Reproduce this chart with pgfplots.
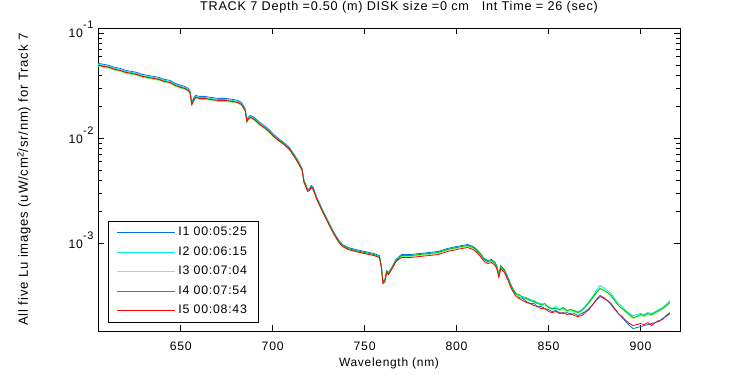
\documentclass[border=0pt]{standalone}
\usepackage{pgfplots}
\pgfplotsset{compat=1.18}
\usepackage{pgfplotstable}
\usepackage{fontspec}
\setmainfont{Liberation Sans}[LetterSpace=6]
\definecolor{cI1}{RGB}{0,112,230}
\definecolor{cI2}{RGB}{0,230,230}
\definecolor{cI3}{RGB}{120,255,120}
\definecolor{cI4}{RGB}{0,190,0}
\definecolor{cI5}{RGB}{255,0,0}
\pgfplotstableread{
x I1 I2 I3 I4 I5
605 0.05180 0.05067 0.04850 0.04957 0.04957
608 0.05067 0.04957 0.04745 0.04850 0.04850
611 0.04957 0.04850 0.04642 0.04745 0.04745
614 0.04745 0.04642 0.04442 0.04541 0.04541
617 0.04642 0.04541 0.04346 0.04442 0.04442
620 0.04442 0.04346 0.04160 0.04252 0.04252
623 0.04346 0.04252 0.04069 0.04160 0.04160
626 0.04252 0.04160 0.03981 0.04069 0.04069
629 0.04069 0.03981 0.03810 0.03895 0.03895
632 0.03981 0.03895 0.03728 0.03810 0.03810
635 0.03895 0.03810 0.03647 0.03728 0.03728
638 0.03810 0.03728 0.03568 0.03647 0.03647
641 0.03647 0.03568 0.03415 0.03490 0.03490
644 0.03568 0.03490 0.03341 0.03415 0.03415
647 0.03341 0.03268 0.03128 0.03197 0.03197
650 0.03197 0.03128 0.02994 0.03060 0.03060
652 0.03128 0.03060 0.02929 0.02994 0.02994
654 0.02994 0.02929 0.02803 0.02865 0.02865
655 0.02865 0.02803 0.02683 0.02742 0.02742
656 0.02202 0.02154 0.02062 0.02108 0.02108
657 0.02404 0.02352 0.02251 0.02301 0.02301
658 0.02568 0.02512 0.02404 0.02458 0.02458
660 0.02512 0.02458 0.02352 0.02404 0.02404
663 0.02512 0.02458 0.02352 0.02404 0.02404
666 0.02458 0.02404 0.02301 0.02352 0.02352
670 0.02404 0.02352 0.02251 0.02301 0.02301
674 0.02404 0.02352 0.02251 0.02301 0.02301
678 0.02352 0.02301 0.02202 0.02251 0.02251
681 0.02301 0.02251 0.02154 0.02202 0.02202
683 0.02202 0.02154 0.02062 0.02108 0.02108
685 0.01931 0.01889 0.01808 0.01848 0.01848
686 0.01517 0.01484 0.01420 0.01452 0.01452
687 0.01620 0.01585 0.01517 0.01551 0.01551
688 0.01656 0.01620 0.01551 0.01585 0.01585
690 0.01585 0.01551 0.01484 0.01517 0.01517
693 0.01420 0.01390 0.01330 0.01359 0.01359
696 0.01301 0.01273 0.01218 0.01245 0.01245
698 0.01218 0.01192 0.01141 0.01166 0.01166
700 0.01116 0.01092 0.01045 0.01068 0.01068
703 0.01000 0.009783 0.009571 0.009783 0.009571
706 0.009160 0.008962 0.008767 0.008962 0.008767
709 0.008209 0.008031 0.007857 0.008031 0.007857
712 0.006888 0.006739 0.006592 0.006739 0.006592
714 0.006039 0.005908 0.005780 0.005908 0.005780
716 0.005180 0.005067 0.004957 0.005067 0.004957
717 0.003981 0.003895 0.003810 0.003895 0.003810
718 0.003647 0.003568 0.003490 0.003568 0.003490
719 0.003268 0.003197 0.003128 0.003197 0.003128
720 0.003341 0.003268 0.003197 0.003268 0.003197
721 0.003568 0.003490 0.003415 0.003490 0.003415
722 0.003415 0.003341 0.003268 0.003341 0.003268
724 0.002742 0.002683 0.002625 0.002683 0.002625
727 0.002108 0.002062 0.002017 0.002062 0.002017
730 0.001656 0.001620 0.001585 0.001620 0.001585
733 0.001301 0.001273 0.001245 0.001273 0.001245
736 0.001068 0.001045 0.001022 0.001045 0.001022
738 0.0009783 0.0009571 0.0009363 0.0009571 0.0009363
741 0.0009160 0.0008962 0.0008767 0.0008962 0.0008767
745 0.0008767 0.0008577 0.0008391 0.0008577 0.0008391
750 0.0008391 0.0008209 0.0008031 0.0008209 0.0008031
755 0.0008031 0.0007857 0.0007686 0.0007857 0.0007686
758 0.0007686 0.0007520 0.0007357 0.0007520 0.0007357
759 0.0006310 0.0006173 0.0006039 0.0006173 0.0006039
760 0.0004346 0.0004252 0.0004160 0.0004252 0.0004160
761 0.0004541 0.0004442 0.0004346 0.0004442 0.0004346
762 0.0005532 0.0005412 0.0005294 0.0005412 0.0005294
763 0.0005294 0.0005180 0.0005067 0.0005180 0.0005067
765 0.0006039 0.0005908 0.0005780 0.0005908 0.0005780
767 0.0007041 0.0006888 0.0006739 0.0006888 0.0006739
770 0.0007857 0.0007686 0.0007520 0.0007686 0.0007357
775 0.0007857 0.0007686 0.0007520 0.0007686 0.0007357
780 0.0008031 0.0007857 0.0007686 0.0007857 0.0007520
785 0.0008209 0.0008031 0.0007857 0.0008031 0.0007686
790 0.0008391 0.0008209 0.0008031 0.0008209 0.0007857
795 0.0008962 0.0008767 0.0008577 0.0008767 0.0008391
800 0.0009363 0.0009160 0.0008962 0.0009160 0.0008767
803 0.0009571 0.0009363 0.0009160 0.0009363 0.0008962
806 0.0009783 0.0009571 0.0009363 0.0009571 0.0009160
809 0.0009363 0.0009160 0.0008962 0.0009160 0.0008767
811 0.0008767 0.0008577 0.0008391 0.0008577 0.0008209
813 0.0008031 0.0007857 0.0007686 0.0007857 0.0007520
815 0.0007197 0.0007041 0.0006888 0.0007041 0.0006739
817 0.0006888 0.0006739 0.0006592 0.0006739 0.0006450
819 0.0007041 0.0006888 0.0006739 0.0006888 0.0006592
821 0.0006592 0.0006450 0.0006310 0.0006450 0.0006173
822 0.0006039 0.0005908 0.0005780 0.0005908 0.0005654
823 0.0005067 0.0004957 0.0004850 0.0004957 0.0004745
824 0.0006173 0.0006039 0.0005908 0.0006039 0.0005780
826 0.0005654 0.0005532 0.0005412 0.0005532 0.0005294
828 0.0004745 0.0004642 0.0004541 0.0004642 0.0004442
830 0.0003895 0.0003810 0.0003728 0.0003810 0.0003647
832 0.0003415 0.0003341 0.0003268 0.0003341 0.0003197
834 0.0003060 0.0003197 0.0003128 0.0003268 0.0002994
836 0.0002994 0.0003128 0.0003060 0.0003060 0.0002865
838 0.0002803 0.0003060 0.0002929 0.0002994 0.0002742
840 0.0002683 0.0002929 0.0002865 0.0002865 0.0002683
842 0.0002683 0.0002865 0.0002742 0.0002803 0.0002568
844 0.0002512 0.0002742 0.0002683 0.0002683 0.0002512
846 0.0002512 0.0002683 0.0002568 0.0002625 0.0002404
848 0.0002404 0.0002568 0.0002568 0.0002683 0.0002404
850 0.0002352 0.0002512 0.0002458 0.0002458 0.0002251
852 0.0002251 0.0002404 0.0002352 0.0002404 0.0002202
854 0.0002301 0.0002512 0.0002458 0.0002404 0.0002251
856 0.0002202 0.0002352 0.0002301 0.0002352 0.0002154
858 0.0002154 0.0002404 0.0002352 0.0002458 0.0002202
860 0.0002202 0.0002301 0.0002251 0.0002301 0.0002108
862 0.0002108 0.0002352 0.0002301 0.0002352 0.0002154
864 0.0002154 0.0002251 0.0002202 0.0002301 0.0002062
866 0.0002062 0.0002251 0.0002202 0.0002202 0.0002017
868 0.0002154 0.0002352 0.0002251 0.0002301 0.0002062
870 0.0002251 0.0002512 0.0002458 0.0002512 0.0002202
872 0.0002404 0.0002803 0.0002683 0.0002742 0.0002352
874 0.0002625 0.0003128 0.0002994 0.0003060 0.0002625
876 0.0002865 0.0003568 0.0003341 0.0003415 0.0002929
878 0.0003128 0.0003981 0.0003728 0.0003728 0.0003197
880 0.0002994 0.0003810 0.0003647 0.0003568 0.0003060
882 0.0002865 0.0003568 0.0003415 0.0003415 0.0002865
884 0.0002625 0.0003341 0.0003128 0.0003197 0.0002683
886 0.0002352 0.0002994 0.0002865 0.0002865 0.0002404
888 0.0002154 0.0002683 0.0002568 0.0002568 0.0002154
890 0.0001974 0.0002512 0.0002404 0.0002404 0.0002017
892 0.0001808 0.0002301 0.0002202 0.0002251 0.0001848
894 0.0001656 0.0002154 0.0002062 0.0002108 0.0001730
896 0.0001551 0.0002062 0.0001931 0.0001974 0.0001656
898 0.0001585 0.0002108 0.0002017 0.0002017 0.0001693
900 0.0001620 0.0002154 0.0002062 0.0002108 0.0001730
902 0.0001656 0.0002108 0.0002017 0.0002062 0.0001693
904 0.0001693 0.0002202 0.0002108 0.0002154 0.0001769
906 0.0001730 0.0002154 0.0002062 0.0002108 0.0001656
908 0.0001769 0.0002251 0.0002154 0.0002202 0.0001769
910 0.0001808 0.0002352 0.0002251 0.0002301 0.0001848
912 0.0001931 0.0002458 0.0002352 0.0002404 0.0001889
914 0.0002017 0.0002625 0.0002512 0.0002568 0.0002062
916 0.0002154 0.0002865 0.0002742 0.0002742 0.0002202
}\data
\begin{document}
\begin{tikzpicture}
\path[use as bounding box] (-98bp,-44bp) rectangle (652bp,331bp);
\begin{axis}[
  at={(0,0)}, anchor=south west,
  scale only axis, width=582bp, height=302.7bp,
  ymode=log,
  xmin=605, xmax=921.5,
  ymin=1.47e-4, ymax=0.1116,
  axis line style={line width=0.8bp, black},
  every tick/.style={black, line width=0.8bp},
  tick align=inside,
  xtick pos=both, ytick pos=both,
  major tick length=5.8bp, minor tick length=3.8bp,
  xtick={650,700,750,800,850,900},
  xticklabels={650,700,750,800,850,900},
  ytick={0.001,0.01,0.1},
  yticklabels={10\raisebox{9bp}{\fontsize{11}{12}\selectfont -3},10\raisebox{9bp}{\fontsize{11}{12}\selectfont -2},10\raisebox{9bp}{\fontsize{11}{12}\selectfont -1}},
  ticklabel style={font=\fontsize{12.3}{14}\selectfont},
  xticklabel style={anchor=base, yshift=-19bp},
  yticklabel style={anchor=base east, yshift=-4.6bp, xshift=-1bp},
  title={TRACK 7 Depth =0.50 (m) DISK size =0 cm\ \ \ Int Time = 26 (sec)},
  title style={font=\fontsize{12.7}{14}\selectfont, at={(axis description cs:0.5,1)}, anchor=base, yshift=12bp, xshift=10bp},
  xlabel={Wavelength (nm)},
  xlabel style={font=\fontsize{12}{14}\selectfont, at={(axis description cs:0.5,0)}, anchor=base, yshift=-35bp},
  ylabel={All five Lu images (uW/cm\textsuperscript{2}/sr/nm) for Track 7},
  ylabel style={font=\fontsize{13.2}{15}\selectfont, at={(axis description cs:0,0.5)}, anchor=base, yshift=70bp},
  legend cell align=left,
  legend style={at={(axis description cs:0,0)}, anchor=south west, xshift=10bp, yshift=9bp,
    draw=black, fill=white, inner xsep=8.5bp, inner ysep=1.5bp, row sep=0bp,
    font=\fontsize{12.4}{14}\selectfont,
    nodes={inner xsep=3bp, inner ysep=4.15bp, text height=9bp, text depth=2.2bp}},
  legend image code/.code={\draw[#1, line width=0.8bp] (0bp,0bp) -- (58bp,0bp);},
  every axis plot/.append style={line width=0.8bp},
]
\addplot[draw=cI1] table[x=x, y=I1] {\data};
\addplot[draw=cI2] table[x=x, y=I2] {\data};
\addplot[draw=cI3] table[x=x, y=I3] {\data};
\addplot[draw=cI4] table[x=x, y=I4] {\data};
\addplot[draw=cI5] table[x=x, y=I5] {\data};
\legend{I1 00:05:25, I2 00:06:15, I3 00:07:04, I4 00:07:54, I5 00:08:43}
\end{axis}
\end{tikzpicture}
\end{document}
